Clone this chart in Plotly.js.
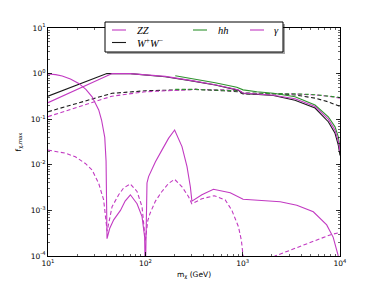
<!DOCTYPE html>
<html>
<head>
<meta charset="utf-8">
<script src="https://cdn.plot.ly/plotly-3.0.1.min.js"></script>
<style>html,body{margin:0;padding:0;background:#fff;}#chart{width:379px;height:285px;}</style>
</head>
<body>
<div id="chart"></div>
<script>
// ---- data ----
const wwSolidM = [10, 20, 40.2, 70, 100, 160, 290, 522, 870, 900, 1010, 1400, 2070, 3450, 5540, 7580, 8890, 9610, 10000];
const wwSolidF = [0.32, 0.56, 1.0, 1.0, 0.93, 0.855, 0.70, 0.56, 0.44, 0.43, 0.365, 0.35, 0.33, 0.26, 0.176, 0.088, 0.049, 0.027, 0.016];

const zzSolidM = [10, 20, 45.6, 70, 100, 160, 290, 522, 870, 900, 1010, 1400, 2070, 3450, 5540, 7580, 8890, 9610, 10000];
const zzSolidF = [0.23, 0.45, 1.0, 1.0, 0.94, 0.87, 0.71, 0.57, 0.45, 0.44, 0.375, 0.355, 0.335, 0.28, 0.19, 0.1, 0.057, 0.033, 0.02];

const hhSolidM = [203, 290, 522, 870, 900, 1010, 1400, 2070, 3450, 5540, 7580, 8890, 9610, 10000];
const hhSolidF = [0.90, 0.79, 0.63, 0.50, 0.49, 0.44, 0.40, 0.37, 0.31, 0.205, 0.113, 0.068, 0.041, 0.023];

const gaSolidM = [10, 12, 14, 17, 20.7, 24.5, 28.4, 31, 33.2, 35.5, 37.3, 38.3, 39.5, 40.0, 40.4, 43, 47.3, 55.5, 62, 70.2, 82.2, 92.5, 98.4, 100, 102, 104, 108, 127, 148, 173, 200, 238, 268, 290, 301, 381, 501, 745, 1010, 2430, 3600, 5320, 7300, 8500, 9550, 10000];
const gaSolidF = [0.98, 0.95, 0.89, 0.76, 0.61, 0.45, 0.31, 0.22, 0.16, 0.096, 0.058, 0.04, 0.012, 0.003, 2.4e-4, 4e-4, 6.2e-4, 1.0e-3, 1.6e-3, 2.2e-3, 1.4e-3, 7.3e-4, 2.6e-4, 3e-5, 1e-3, 4e-3, 5.5e-3, 0.0117, 0.021, 0.038, 0.058, 0.025, 9.1e-3, 3.3e-3, 1.6e-3, 2.2e-3, 2.9e-3, 2.45e-3, 1.75e-3, 1.55e-3, 1.3e-3, 9.3e-4, 4.8e-4, 2.6e-4, 1.05e-4, 4e-5];

const wwDashM = [10, 20.7, 45.5, 100, 220, 326, 635, 900, 1010, 2070, 3450, 5540, 7580, 10000];
const wwDashF = [0.146, 0.227, 0.37, 0.42, 0.45, 0.45, 0.42, 0.40, 0.357, 0.36, 0.34, 0.29, 0.24, 0.19];

const zzDashM = [10, 20.7, 45.5, 100, 220, 326, 635, 900, 1010, 2430, 3450, 5540, 7580, 10000];
const zzDashF = [0.114, 0.187, 0.32, 0.40, 0.44, 0.45, 0.44, 0.42, 0.375, 0.37, 0.357, 0.34, 0.32, 0.29];

const hhDashM = [203, 326, 635, 900, 1010, 2430, 3450, 5540, 7580, 10000];
const hhDashF = [0.45, 0.45, 0.43, 0.42, 0.375, 0.37, 0.36, 0.345, 0.32, 0.30];

const gaDashM = [10, 15.1, 19.1, 24.2, 28.4, 33.2, 37.3, 39.8, 40.5, 45.5, 53.2, 59.8, 70.2, 82.2, 92.5, 100, 106, 112, 127, 148, 173, 200, 238, 278, 300, 381, 510, 662, 775, 905, 970, 1010, 1100, 1500, 2150, 7900, 10000];
const gaDashF = [0.021, 0.018, 0.015, 0.0107, 7.7e-3, 3.9e-3, 1.7e-3, 4.4e-4, 3.5e-4, 1.2e-3, 2.2e-3, 3.1e-3, 3.8e-3, 2.6e-3, 1.2e-3, 2.2e-4, 6e-4, 8.7e-4, 1.6e-3, 2.6e-3, 3.9e-3, 4.8e-3, 3.3e-3, 2.0e-3, 1.4e-3, 1.8e-3, 2.1e-3, 1.7e-3, 1.0e-3, 4.4e-4, 2.2e-4, 1e-4, 5e-5, 3e-5, 1e-4, 2.9e-4, 3.3e-4];

const xTickVals = [10, 100, 1000, 10000];
const xTickText = ['10<sup>1</sup>', '10<sup>2</sup>', '10<sup>3</sup>', '10<sup>4</sup>'];
const yTickVals = [1e-4, 1e-3, 1e-2, 1e-1, 1, 10];
const yTickText = ['10<sup>-4</sup>', '10<sup>-3</sup>', '10<sup>-2</sup>', '10<sup>-1</sup>', '10<sup>0</sup>', '10<sup>1</sup>'];

const legendLabels = ['<i>ZZ</i>', '<i>hh</i>', '<i>γ</i>', '<i>W</i><sup>+</sup><i>W</i><sup>−</sup>'];

// ---- styles ----
const MAG = '#c23ac2', GRN = '#2f922f', BLK = '#1a1a1a';
const DASH = '4px,2.5px';
const LW = 1.1;

function tr(x, y, color, dash) {
  return {x: x, y: y, type: 'scatter', mode: 'lines', showlegend: false, hoverinfo: 'skip',
          line: {color: color, width: LW, dash: dash || 'solid'}};
}

const traces = [
  tr(wwDashM, wwDashF, BLK, DASH),
  tr(zzDashM, zzDashF, MAG, DASH),
  tr(hhDashM, hhDashF, GRN, DASH),
  tr(gaDashM, gaDashF, MAG, DASH),
  tr(hhSolidM, hhSolidF, GRN),
  tr(wwSolidM, wwSolidF, BLK),
  tr(zzSolidM, zzSolidF, MAG),
  tr(gaSolidM, gaSolidF, MAG)
];

// plot area in pixels
const L = 48, R = 39, T = 28, B = 29, W = 379, H = 285;
const pw = W - L - R, ph = H - T - B;
const px = v => (v - L) / pw;
const py = v => (H - B - v) / ph;

const shapes = [
  {type: 'rect', xref: 'paper', yref: 'paper', x0: px(107), x1: px(285), y0: py(54), y1: py(24),
   fillcolor: 'rgba(0,0,0,0.35)', line: {width: 0}, layer: 'above'},
  {type: 'rect', xref: 'paper', yref: 'paper', x0: px(105), x1: px(283), y0: py(52), y1: py(22),
   fillcolor: '#ffffff', line: {color: '#000', width: 1}, layer: 'above'}
];
const legItems = [
  {lx: 112, ly: 30, tx: 135, color: MAG, label: legendLabels[0]},
  {lx: 193, ly: 30, tx: 216, color: GRN, label: legendLabels[1]},
  {lx: 250, ly: 30, tx: 272, color: MAG, label: legendLabels[2]},
  {lx: 112, ly: 42.5, tx: 135, color: BLK, label: legendLabels[3]}
];
const annotations = [];
legItems.forEach(it => {
  shapes.push({type: 'line', xref: 'paper', yref: 'paper', x0: px(it.lx), x1: px(it.lx + 14),
               y0: py(it.ly), y1: py(it.ly), line: {color: it.color, width: LW}, layer: 'above'});
  annotations.push({xref: 'paper', yref: 'paper', x: px(it.tx), y: py(it.ly), xanchor: 'left', yanchor: 'middle',
                    text: it.label, showarrow: false,
                    font: {family: 'Liberation Serif, DejaVu Serif, serif', size: 10.5, color: '#000'}});
});

const tickFont = {family: 'DejaVu Sans, sans-serif', size: 7.5, color: '#000'};
const axisCommon = {
  type: 'log', showgrid: false, zeroline: false, showline: true, linecolor: '#000', linewidth: 1,
  mirror: 'allticks', ticks: 'inside', ticklen: 4, tickwidth: 0.8, tickcolor: '#000',
  tickmode: 'array', tickfont: tickFont,
  minor: {ticks: 'inside', ticklen: 2, tickwidth: 0.6, tickcolor: '#000', showgrid: false, dtick: 'D1'}
};

const layout = {
  width: W, height: H,
  margin: {l: L, r: R, t: T, b: B, pad: 0},
  paper_bgcolor: '#fff', plot_bgcolor: '#fff',
  showlegend: false,
  xaxis: Object.assign({}, axisCommon, {
    range: [1, 4], tickvals: xTickVals, ticktext: xTickText,
    title: {text: 'm<sub>χ</sub> (GeV)', font: {family: 'DejaVu Sans, sans-serif', size: 7.5, color: '#000'}, standoff: 4}
  }),
  yaxis: Object.assign({}, axisCommon, {
    range: [-4, 1], tickvals: yTickVals, ticktext: yTickText,
    title: {text: 'f<sub>χ,max</sub>', font: {family: 'DejaVu Sans, sans-serif', size: 7.5, color: '#000'}, standoff: 8}
  }),
  shapes: shapes,
  annotations: annotations
};

Plotly.newPlot('chart', traces, layout, {staticPlot: true, displayModeBar: false});
</script>
</body>
</html>
